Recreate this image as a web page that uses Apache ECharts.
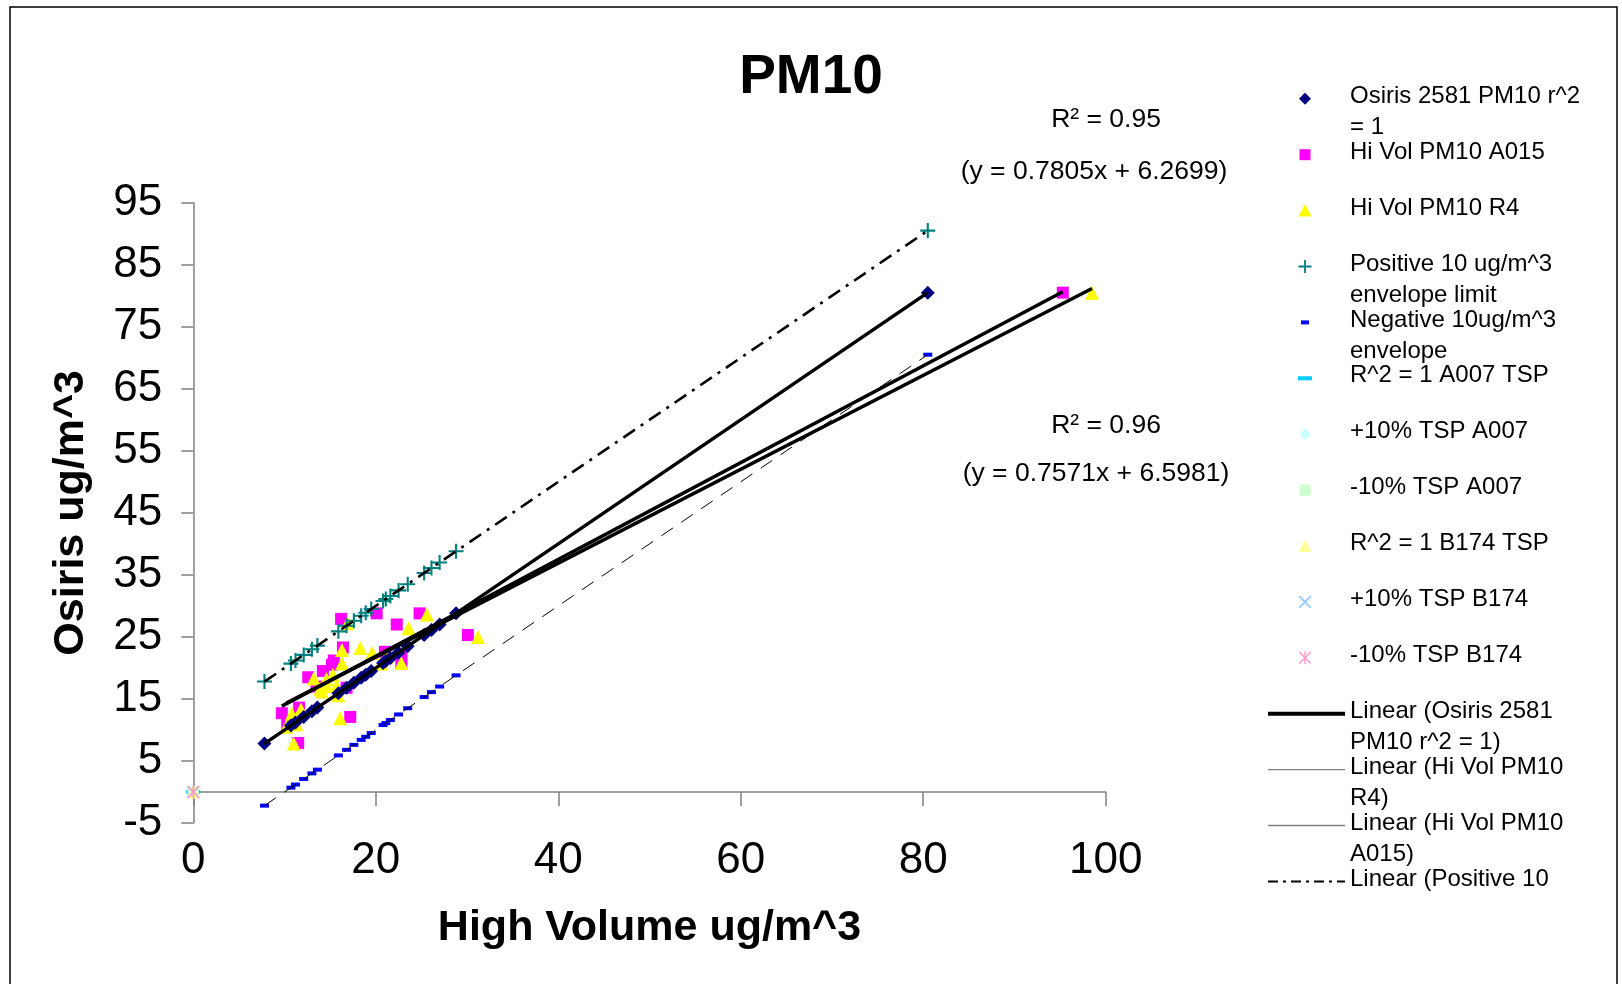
<!DOCTYPE html>
<html>
<head>
<meta charset="utf-8">
<script src="https://cdn.jsdelivr.net/npm/echarts@6/dist/echarts.min.js"></script>
<style>html,body{margin:0;padding:0;background:#fff}#c{width:1622px;height:984px}</style>
</head>
<body>
<div id="c"></div>
<script>
// ---------------- DATA ----------------
const osirisX   = [7.8, 10.7, 11.2, 12.1, 13.0, 13.6, 15.9, 16.8, 17.6, 18.4, 18.9, 19.5, 20.8, 21.1, 21.6, 22.5, 23.5, 25.3, 26.1, 27.0, 28.8, 80.5];
const osirisY   = [7.8, 10.7, 11.2, 12.1, 13.0, 13.6, 15.9, 16.8, 17.6, 18.4, 18.9, 19.5, 20.8, 21.1, 21.6, 22.5, 23.5, 25.3, 26.1, 27.0, 28.8, 80.5];
const positiveY = [17.8, 20.7, 21.2, 22.1, 23.0, 23.6, 25.9, 26.8, 27.6, 28.4, 28.9, 29.5, 30.8, 31.1, 31.6, 32.5, 33.5, 35.3, 36.1, 37.0, 38.8, 90.5];
const negativeY = [-2.2, 0.7, 1.2, 2.1, 3.0, 3.6, 5.9, 6.8, 7.6, 8.4, 8.9, 9.5, 10.8, 11.1, 11.6, 12.5, 13.5, 15.3, 16.1, 17.0, 18.8, 70.5];

const a015X = [9.7, 10.3, 11.5, 11.6, 12.6, 13.5, 14.2, 15.2, 15.4, 16.2, 16.4, 17.2, 16.8, 20.1, 21.0, 22.3, 22.8, 22.8, 24.8, 30.1, 95.3];
const a015Y = [12.7, 11.0, 7.9, 13.6, 18.5, 17.0, 19.5, 20.5, 21.2, 27.9, 23.3, 12.1, 16.8, 28.8, 22.6, 27.0, 22.0, 20.7, 28.8, 25.3, 80.5];

const r4X = [10.2, 10.8, 11.0, 11.3, 11.8, 13.2, 13.9, 14.1, 14.6, 14.6, 15.3, 15.7, 15.9, 16.1, 16.3, 16.3, 16.9, 18.3, 19.6, 20.6, 21.2, 22.8, 23.6, 25.6, 31.2, 98.5];
const r4Y = [10.5, 12.6, 7.8, 10.9, 13.3, 18.3, 16.6, 16.2, 18.2, 17.1, 18.9, 17.1, 15.6, 11.9, 20.7, 22.9, 27.2, 23.2, 22.4, 20.7, 21.8, 20.8, 26.4, 28.6, 25.0, 80.5];

const tspX = [0];
const tspY = [0];

// trendline coefficients shown on the chart [slope, intercept]
const trendA015 = [0.7805, 6.2699];
const trendR4   = [0.7571, 6.5981];

const annotationTexts = ['R\u00B2 = 0.95', '(y = 0.7805x + 6.2699)', 'R\u00B2 = 0.96', '(y = 0.7571x + 6.5981)'];

const xTicks = [0, 20, 40, 60, 80, 100];
const yTicks = [-5, 5, 15, 25, 35, 45, 55, 65, 75, 85, 95];

const seriesNames = [
  'Osiris 2581 PM10 r^2 = 1',
  'Hi Vol PM10 A015',
  'Hi Vol PM10 R4',
  'Positive 10 ug/m^3 envelope limit',
  'Negative 10ug/m^3 envelope',
  'R^2 = 1 A007 TSP',
  '+10% TSP A007',
  '-10% TSP A007',
  'R^2 = 1 B174 TSP',
  '+10% TSP B174',
  '-10% TSP B174',
  'Linear (Osiris 2581 PM10 r^2 = 1)',
  'Linear (Hi Vol PM10 R4)',
  'Linear (Hi Vol PM10 A015)',
  'Linear (Positive 10 ug/m^3 envelope limit)'
];
const legendLabels = [
  'Osiris 2581 PM10 r^2\n= 1',
  'Hi Vol PM10 A015',
  'Hi Vol PM10 R4',
  'Positive 10 ug/m^3\nenvelope limit',
  'Negative 10ug/m^3\nenvelope',
  'R^2 = 1 A007 TSP',
  '+10% TSP A007',
  '-10% TSP A007',
  'R^2 = 1 B174 TSP',
  '+10% TSP B174',
  '-10% TSP B174',
  'Linear (Osiris 2581\nPM10 r^2 = 1)',
  'Linear (Hi Vol PM10\nR4)',
  'Linear (Hi Vol PM10\nA015)',
  'Linear (Positive 10'
];
const negTrendName = 'Linear (Negative 10ug/m^3 envelope)';

// ---------------- HELPERS ----------------
const FONT = '"Liberation Sans", Arial, sans-serif';
const zip = (xs, ys) => xs.map((x, i) => [x, ys[i]]);
function fit(xs, ys) {
  const n = xs.length;
  let sx = 0, sy = 0, sxx = 0, sxy = 0;
  for (let i = 0; i < n; i++) { sx += xs[i]; sy += ys[i]; sxx += xs[i] * xs[i]; sxy += xs[i] * ys[i]; }
  const a = (n * sxy - sx * sy) / (n * sxx - sx * sx);
  return [a, (sy - a * sx) / n];
}
function trendData(coef, xs) {
  const lo = Math.min(...xs), hi = Math.max(...xs);
  return [[lo, coef[0] * lo + coef[1]], [hi, coef[0] * hi + coef[1]]];
}

const PLUS = 'path://M4.3,0H5.7V4.3H10V5.7H5.7V10H4.3V5.7H0V4.3H4.3Z';
const XMARK = 'path://M1,0L5,4L9,0L10,1L6,5L10,9L9,10L5,6L1,10L0,9L4,5L0,1Z';
const ASTER = 'path://M4.4,0H5.6V10H4.4Z M1,0.2L5,4.2L9,0.2L9.8,1L5.8,5L9.8,9L9,9.8L5,5.8L1,9.8L0.2,9L4.2,5L0.2,1Z';

function sc(name, data, symbol, size, color, z) {
  return { name, type: 'scatter', xAxisIndex: 0, yAxisIndex: 0, data, symbol, symbolSize: size,
           itemStyle: { color, opacity: 1 }, z: z || 2, silent: true, emphasis: { disabled: true } };
}
function ln(name, data, width, color, type) {
  return { name, type: 'line', xAxisIndex: 0, yAxisIndex: 0, data, symbol: 'none', showSymbol: false,
           lineStyle: { width, color, type: type || 'solid' }, itemStyle: { color }, z: 4, silent: true,
           emphasis: { disabled: true } };
}

const series = [
  sc(seriesNames[1], zip(a015X, a015Y), 'rect', 12, '#FF00FF', 2),
  sc(seriesNames[2], zip(r4X, r4Y), 'triangle', 14, '#FFFF00', 2),
  sc(seriesNames[0], zip(osirisX, osirisY), 'diamond', 14, '#000080', 3),
  sc(seriesNames[3], zip(osirisX, positiveY), PLUS, 15, '#008080', 3),
  sc(seriesNames[4], zip(osirisX, negativeY), 'rect', [9, 4], '#0000FF', 3),
  sc(seriesNames[5], zip(tspX, tspY), 'rect', [14, 4], '#00CCFF', 3),
  sc(seriesNames[6], zip(tspX, tspY), 'diamond', 12, '#CCFFFF', 3),
  sc(seriesNames[7], zip(tspX, tspY), 'rect', 11, '#CCFFCC', 3),
  sc(seriesNames[8], zip(tspX, tspY), 'triangle', 13, '#FFFF99', 3),
  sc(seriesNames[9], zip(tspX, tspY), XMARK, 13, '#99CCFF', 3),
  sc(seriesNames[10], zip(tspX, tspY), ASTER, 13, '#FF99CC', 3),
  ln(seriesNames[11], trendData(fit(osirisX, osirisY), osirisX), 3.5, '#000'),
  ln(seriesNames[12], trendData(trendR4, r4X), 3.5, '#000'),
  ln(seriesNames[13], trendData(trendA015, a015X), 3.5, '#000'),
  ln(seriesNames[14], trendData(fit(osirisX, positiveY), osirisX), 2.6, '#000', [14, 7, 3, 7]),
  ln(negTrendName, trendData(fit(osirisX, negativeY), osirisX), 1, '#000', [14, 10])
];

// ---------------- LEGEND (one component per entry) ----------------
// icon boxes are 80 wide; symbol centred at (40, 12.5); box height 20 for one text line, 51 for two
const LH = 31;
const iconShapes = [
  'M40,6.5L46,12.5L40,18.5L34,12.5Z',
  'M34.5,7H45.5V18H34.5Z',
  'M40,6L46.5,18.5L33.5,18.5Z',
  'M39.1,6H40.9V11.6H46.5V13.4H40.9V19H39.1V13.4H33.5V11.6H39.1Z',
  'M36,10.5H44V14.5H36Z',
  'M33,10.5H47V14.5H33Z',
  'M40,6.5L46,12.5L40,18.5L34,12.5Z',
  'M34.5,7H45.5V18H34.5Z',
  'M40,6L46.5,18.5L33.5,18.5Z',
  'M34.8,6L40,11.2L45.2,6L46.5,7.3L41.3,12.5L46.5,17.7L45.2,19L40,13.8L34.8,19L33.5,17.7L38.7,12.5L33.5,7.3Z',
  'M39.3,6H40.7V19H39.3Z M34.8,6.3L40,11.5L45.2,6.3L46.2,7.3L41,12.5L46.2,17.7L45.2,18.7L40,13.5L34.8,18.7L33.8,17.7L39,12.5L33.8,7.3Z',
  'M3,10.5H80V14.5H3Z',
  'M3,11.8H80V13.2H3Z',
  'M3,11.8H80V13.2H3Z',
  'M3,11.5H13V13.5H3Z M18,11.5H21V13.5H18Z M26,11.5H36V13.5H26Z M41,11.5H44V13.5H41Z M49,11.5H59V13.5H49Z M64,11.5H67V13.5H64Z M72,11.5H80V13.5H72Z'
];
const legColor = { 11: '#000000', 12: '#808080', 13: '#808080', 14: '#000000' };
const LEG_Y0 = 97.7, LEG_STEP = 55.9;
const legends = seriesNames.map((n, i) => {
  const lines = legendLabels[i].split('\n').length;
  const h = 20 + (lines - 1) * LH;
  const l = {
    data: [{ name: n, icon: 'path://M0,0M80,' + h + iconShapes[i] }], orient: 'vertical', left: 1265,
    top: LEG_Y0 + i * LEG_STEP - 16.9,
    itemWidth: 80, itemHeight: h, padding: 0, itemGap: 0, selectedMode: false, symbolKeepAspect: true,
    formatter: () => legendLabels[i],
    textStyle: { fontSize: 24, lineHeight: LH, color: '#000', fontFamily: FONT }
  };
  if (legColor[i]) l.itemStyle = { color: legColor[i], borderWidth: 0 };
  return l;
});

// ---------------- OPTION ----------------
const axisGray = '#808080';
const option = {
  animation: false,
  backgroundColor: '#ffffff',
  textStyle: { fontFamily: FONT },
  title: { text: 'PM10', left: 'center', top: 45,
           textStyle: { fontSize: 55, fontWeight: 'bold', color: '#000', fontFamily: FONT } },
  grid: { left: 193.3, right: 516.3, top: 202.7, bottom: 161, containLabel: false },
  xAxis: [
    { type: 'value', min: xTicks[0], max: xTicks[xTicks.length - 1], interval: 20, position: 'bottom',
      axisLine: { show: true, onZero: true, lineStyle: { color: axisGray, width: 1.5 } },
      axisTick: { show: true, length: 14, lineStyle: { color: axisGray, width: 1.5 } },
      axisLabel: { show: false }, splitLine: { show: false } },
    { type: 'value', min: xTicks[0], max: xTicks[xTicks.length - 1], interval: 20, position: 'bottom',
      axisLine: { show: false, onZero: false }, axisTick: { show: false },
      axisLabel: { show: true, fontSize: 44, color: '#000', margin: 16, fontFamily: FONT },
      splitLine: { show: false },
      name: 'High Volume ug/m^3', nameLocation: 'middle', nameGap: 84,
      nameTextStyle: { fontSize: 43, fontWeight: 'bold', color: '#000', fontFamily: FONT } }
  ],
  yAxis: {
    type: 'value', min: yTicks[0], max: yTicks[yTicks.length - 1], interval: 10,
    axisLine: { show: true, onZero: false, lineStyle: { color: axisGray, width: 1.5 } },
    axisTick: { show: true, length: 12, lineStyle: { color: axisGray, width: 1.5 } },
    axisLabel: { fontSize: 44, color: '#000', margin: 31, fontFamily: FONT },
    splitLine: { show: false },
    name: 'Osiris ug/m^3', nameLocation: 'middle', nameGap: 101, nameRotate: 90,
    nameTextStyle: { fontSize: 43, fontWeight: 'bold', color: '#000', fontFamily: FONT }
  },
  legend: legends,
  series: series,
  graphic: [
    { type: 'rect', silent: true, shape: { x: 10, y: 7, width: 1607, height: 1000 },
      style: { fill: 'none', stroke: '#000', lineWidth: 1.5 } },
    { type: 'text', silent: true, x: 1106, y: 120,
      style: { text: annotationTexts[0], font: '26.5px ' + FONT, fill: '#000', align: 'center', verticalAlign: 'middle' } },
    { type: 'text', silent: true, x: 1094, y: 172,
      style: { text: annotationTexts[1], font: '26.5px ' + FONT, fill: '#000', align: 'center', verticalAlign: 'middle' } },
    { type: 'text', silent: true, x: 1106, y: 426,
      style: { text: annotationTexts[2], font: '26.5px ' + FONT, fill: '#000', align: 'center', verticalAlign: 'middle' } },
    { type: 'text', silent: true, x: 1096, y: 474,
      style: { text: annotationTexts[3], font: '26.5px ' + FONT, fill: '#000', align: 'center', verticalAlign: 'middle' } }
  ]
};

const chart = echarts.init(document.getElementById('c'), null, { renderer: 'canvas', width: 1622, height: 984 });
chart.setOption(option);
</script>
</body>
</html>
